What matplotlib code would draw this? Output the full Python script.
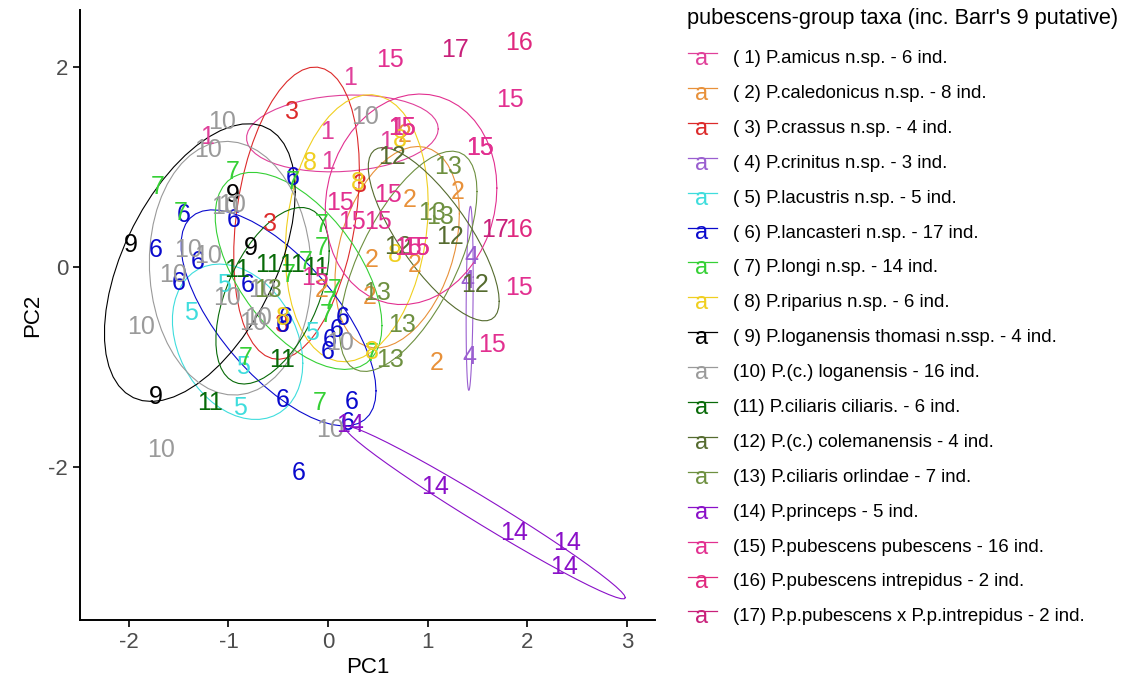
import numpy as np
import matplotlib
matplotlib.use("Agg")
import matplotlib.pyplot as plt
from matplotlib.lines import Line2D

plt.rcParams['font.family'] = ['Liberation Sans', 'DejaVu Sans']
plt.rcParams['axes.unicode_minus'] = False

# --- 分類群の名前・個体数・色 ---
taxa = ["P.amicus n.sp.", "P.caledonicus n.sp.", "P.crassus n.sp.", "P.crinitus n.sp.",
        "P.lacustris n.sp.", "P.lancasteri n.sp.", "P.longi n.sp.", "P.riparius n.sp.",
        "P.loganensis thomasi n.ssp.", "P.(c.) loganensis", "P.ciliaris ciliaris.",
        "P.(c.) colemanensis", "P.ciliaris orlindae", "P.princeps",
        "P.pubescens pubescens", "P.pubescens intrepidus", "P.p.pubescens x P.p.intrepidus"]
n_ind = [6, 8, 4, 3, 5, 17, 14, 6, 4, 16, 6, 4, 7, 5, 16, 2, 2]
colors = ["#E0409A", "#E8913A", "#DC2A2A", "#9A5FD0", "#3FDDDD", "#0A0ACD", "#35D035",
          "#F0CF20", "#000000", "#9A9A9A", "#086A08", "#556B2F", "#6E9040", "#8A10C8",
          "#E23090", "#E0287E", "#C8207A"]
legend_title = "pubescens-group taxa (inc. Barr's 9 putative)"

# --- 各群の主成分得点 (PC1, PC2)、図から読み取り ---
grp1 = [(0.22, 1.89), (-0.01, 1.35), (0.00, 1.05), (-1.21, 1.30), (0.58, 1.25), (0.70, 1.39)]
grp2 = [(1.30, 0.75), (0.82, 0.67), (0.44, 0.07), (0.87, 0.02), (1.09, -0.96), (0.42, -0.30),
        (-0.06, -0.23), (0.77, 1.32)]
grp3 = [(-0.36, 1.55), (0.32, 0.82), (-0.58, 0.43), (-0.46, -0.58)]
grp4 = [(1.44, 0.10), (1.40, -0.14), (1.42, -0.90)]
grp5 = [(-1.05, -0.18), (-1.38, -0.46), (-0.16, -0.66), (-0.85, -1.00), (-0.88, -1.41)]
grp6 = [(-0.36, 0.89), (-1.45, 0.52), (-0.95, 0.47), (-1.73, 0.17), (-1.31, 0.05), (-1.50, -0.16),
        (-0.81, -0.18), (-0.46, -0.58), (-0.43, -0.51), (0.15, -0.51), (0.09, -0.63), (0.02, -0.73),
        (0.00, -0.85), (-0.46, -1.33), (0.24, -1.35), (0.20, -1.56), (-0.30, -2.06)]
grp7 = [(-1.71, 0.80), (-0.96, 0.95), (-0.36, 0.85), (-0.06, 0.42), (-0.06, 0.19), (-0.40, -0.08),
        (0.02, -0.35), (-0.01, -0.48), (-0.83, -0.91), (-0.08, -1.36), (0.44, -0.87), (-1.48, 0.54),
        (-0.23, 0.05), (0.07, -0.23)]
grp8 = [(-0.18, 1.04), (0.44, -0.85), (-0.45, -0.51), (0.30, 0.84), (0.72, 1.27), (0.67, 0.12)]
grp9 = [(-0.96, 0.72), (-1.98, 0.22), (-0.78, 0.19), (-1.73, -1.30)]
grp10 = [(-1.06, 1.45), (-1.20, 1.17), (0.37, 1.50), (-1.03, 0.60), (-1.41, 0.17), (-1.20, 0.11),
         (-1.56, -0.08), (-1.01, -0.31), (-1.88, -0.60), (-0.70, -0.51), (-1.68, -1.83), (0.02, -1.63),
         (0.12, -0.76), (-0.66, -0.23), (-0.75, -0.56), (-0.96, 0.62)]
grp11 = [(-0.91, -0.03), (-0.60, 0.02), (-0.36, 0.02), (-0.12, -0.01), (-0.46, -0.93), (-1.18, -1.36)]
grp12 = [(0.64, 1.10), (1.22, 0.30), (1.47, -0.18), (0.70, 0.20)]
grp13 = [(1.20, 1.00), (1.04, 0.54), (0.49, -0.26), (0.74, -0.58), (0.62, -0.93), (-0.60, -0.23),
         (1.12, 0.50)]
grp14 = [(0.22, -1.58), (1.07, -2.20), (1.87, -2.66), (2.40, -2.76), (2.37, -3.00)]
grp15 = [(0.62, 2.07), (1.82, 1.67), (1.52, 1.19), (0.74, 1.39), (0.60, 0.72), (0.12, 0.64),
         (0.24, 0.45), (0.50, 0.45), (0.80, 0.19), (0.88, 0.19), (1.92, -0.21), (1.64, -0.78),
         (-0.13, -0.11), (0.74, 1.39), (1.52, 1.19), (0.88, 0.19)]
grp16 = [(1.92, 2.24), (1.92, 0.37)]
grp17 = [(1.27, 2.17), (1.67, 0.37)]
groups = [grp1, grp2, grp3, grp4, grp5, grp6, grp7, grp8, grp9, grp10,
          grp11, grp12, grp13, grp14, grp15, grp16, grp17]

LEVEL = 0.7  # 楕円の信頼水準


# --- MASS::cov.trob 相当のロバスト共分散 ---
def cov_trob(x, nu=5, maxit=25, tol=0.01):
    n, p = x.shape
    loc = x.mean(axis=0)
    w = np.ones(n)
    for _ in range(maxit):
        w0 = w
        X = x - loc
        _, d, vt = np.linalg.svd(np.sqrt(w / w.sum())[:, None] * X, full_matrices=False)
        wX = X @ vt.T @ np.diag(1 / d)
        Q = (wX ** 2).sum(axis=1)
        w = (nu + p) / (nu + Q)
        loc = (w[:, None] * x).sum(axis=0) / w.sum()
        if np.all(np.abs(w - w0) < tol):
            break
    cov = (np.sqrt(w)[:, None] * X).T @ (np.sqrt(w)[:, None] * X) / n
    return loc, cov


# --- stat_ellipse(type="t") と同じ作り方の楕円 ---
def t_ellipse(pts, level=LEVEL, segments=51):
    x = np.asarray(pts, dtype=float)
    loc, cov = cov_trob(x)
    dfd = len(x) - 1
    fq = dfd / 2 * ((1 - level) ** (-2 / dfd) - 1)  # qf(level, 2, dfd)
    radius = np.sqrt(2 * fq)
    ang = np.linspace(0, 2 * np.pi, segments + 1)
    circ = np.column_stack([np.cos(ang), np.sin(ang)])
    chol = np.linalg.cholesky(cov).T
    return loc + radius * circ @ chol


fig = plt.figure(figsize=(11.39, 6.96), dpi=100)
ax = fig.add_axes([80 / 1139, 76 / 696, 575 / 1139, 610 / 696])

for i, pts in enumerate(groups):
    arr = np.asarray(pts)
    for px, py in arr:
        ax.text(px, py, str(i + 1), color=colors[i], fontsize=18, ha='center', va='center')
    if len(arr) >= 3:
        e = t_ellipse(arr)
        ax.plot(e[:, 0], e[:, 1], color=colors[i], lw=0.8)

ax.set_xlim(-2.49, 3.28)
ax.set_ylim(-3.53, 2.57)
ax.set_xticks([-2, -1, 0, 1, 2, 3])
ax.set_yticks([-2, 0, 2])
ax.tick_params(labelsize=16, labelcolor='#4D4D4D', length=5, width=1.2, direction='out')
for s in ['top', 'right']:
    ax.spines[s].set_visible(False)
for s in ['left', 'bottom']:
    ax.spines[s].set_linewidth(1.4)
ax.set_xlabel("PC1", fontsize=16, labelpad=3)
ax.set_ylabel("PC2", fontsize=16, labelpad=4)

# --- 凡例（手書き） ---
H = 696
fig.text(687 / 1139, 1 - 24 / H, legend_title, fontsize=15.7, ha='left', va='baseline')
for i, name in enumerate(taxa):
    base = 63 + i * 34.9
    fig.add_artist(Line2D([688 / 1139, 717 / 1139], [1 - (base - 10) / H] * 2,
                          color=colors[i], lw=0.9, transform=fig.transFigure))
    fig.text(702 / 1139, 1 - (base + 2) / H, "a", color=colors[i], fontsize=17,
             ha='center', va='baseline')
    fig.text(733 / 1139, 1 - base / H, f"({i + 1:2d}) {name} - {n_ind[i]} ind.", fontsize=13.4,
             ha='left', va='baseline')

fig.savefig("out.png", dpi=100)
